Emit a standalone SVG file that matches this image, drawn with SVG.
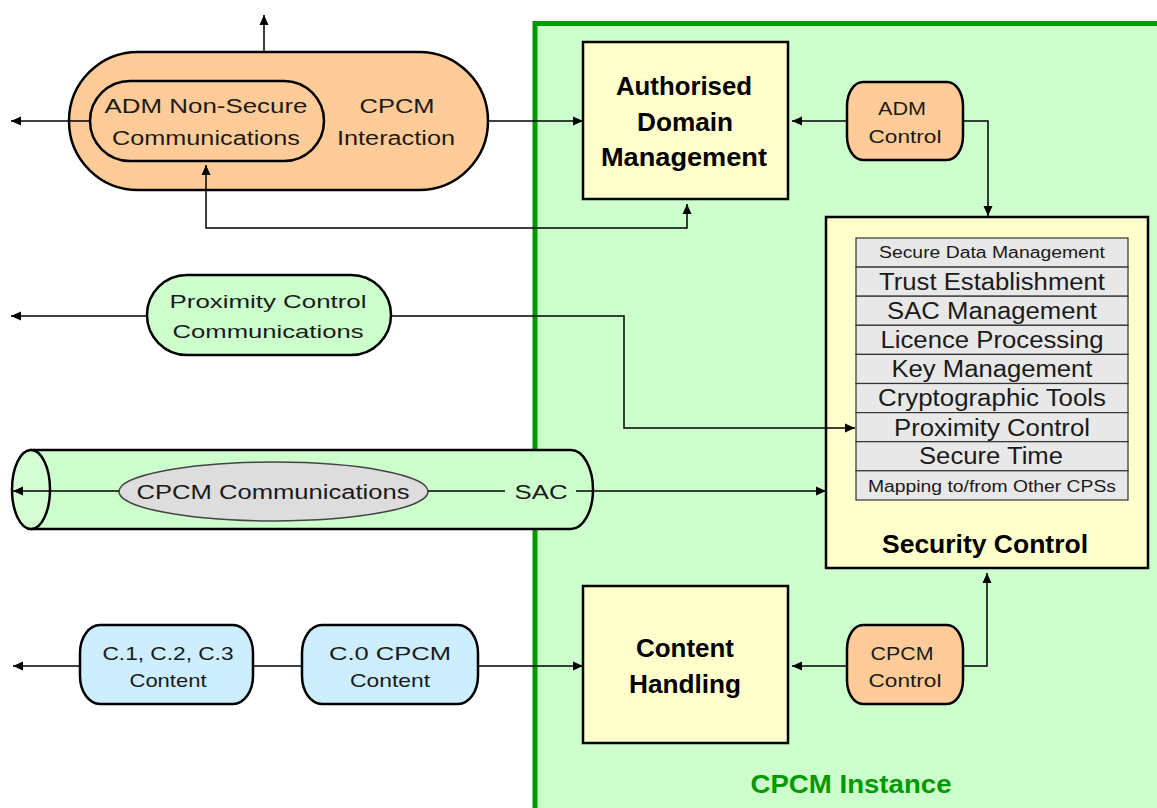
<svg xmlns="http://www.w3.org/2000/svg" width="1157" height="808" viewBox="0 0 1157 808">
<defs>
<marker id="ah" markerUnits="userSpaceOnUse" markerWidth="11" markerHeight="10" refX="10" refY="5" orient="auto-start-reverse">
<path d="M0,0.5 L10,5 L0,9.5 z" fill="#000"/>
</marker>
<style>
.sh{stroke:#000;stroke-width:2.5}
.t{font-family:"Liberation Sans",Arial,sans-serif;fill:#1a1a1a;text-anchor:middle}
.b{font-family:"Liberation Sans",Arial,sans-serif;font-weight:bold;fill:#000;text-anchor:middle;font-size:26px}
.c{fill:none;stroke:#000;stroke-width:1.5}
.row{fill:#e8e8e8;stroke:#333;stroke-width:1.2}
</style>
</defs>
<rect width="1157" height="808" fill="#fff"/>
<g id="cpcm-instance">
<rect x="535" y="23.5" width="700" height="900" fill="#ccffcc" stroke="#009900" stroke-width="5"/>
<text class="b" x="851" y="793" fill="#009900" style="fill:#009900" textLength="201" lengthAdjust="spacingAndGlyphs">CPCM Instance</text>
</g>
<g id="cpcm-interaction">
<rect class="sh" x="69" y="52" width="419" height="138" rx="69" ry="69" fill="#ffcc99"/>
<text class="t" x="397" y="113" font-size="20" textLength="75" lengthAdjust="spacingAndGlyphs">CPCM</text>
<text class="t" x="396" y="145" font-size="20" textLength="118" lengthAdjust="spacingAndGlyphs">Interaction</text>
</g>
<g id="adm-nonsecure">
<rect class="sh" x="90" y="81" width="234" height="80" rx="40" ry="40" fill="#ffcc99"/>
<text class="t" x="206" y="113" font-size="20" textLength="203" lengthAdjust="spacingAndGlyphs">ADM Non-Secure</text>
<text class="t" x="206" y="145" font-size="20" textLength="188" lengthAdjust="spacingAndGlyphs">Communications</text>
</g>
<g id="adm">
<rect class="sh" x="583" y="42" width="205" height="157" fill="#ffffcc"/>
<text class="b" x="684" y="95" textLength="136" lengthAdjust="spacingAndGlyphs">Authorised</text>
<text class="b" x="685" y="131" textLength="96" lengthAdjust="spacingAndGlyphs">Domain</text>
<text class="b" x="684" y="166" textLength="166" lengthAdjust="spacingAndGlyphs">Management</text>
</g>
<g id="adm-control">
<rect class="sh" x="847" y="82" width="116" height="78" rx="16" ry="24" fill="#ffcc99"/>
<text class="t" x="902" y="115" font-size="18" textLength="48" lengthAdjust="spacingAndGlyphs">ADM</text>
<text class="t" x="905" y="143" font-size="18" textLength="73" lengthAdjust="spacingAndGlyphs">Control</text>
</g>
<g id="proximity-comms">
<rect class="sh" x="147" y="275" width="244" height="80" rx="40" ry="40" fill="#ccffcc"/>
<text class="t" x="268" y="308" font-size="19" textLength="197" lengthAdjust="spacingAndGlyphs">Proximity Control</text>
<text class="t" x="268" y="338" font-size="19" textLength="191" lengthAdjust="spacingAndGlyphs">Communications</text>
</g>
<g id="security-control">
<rect class="sh" x="826" y="217" width="322" height="351" fill="#ffffcc"/>
<rect class="row" x="856" y="238" width="272" height="29.1"/>
<rect class="row" x="856" y="267.1" width="272" height="29.1"/>
<rect class="row" x="856" y="296.2" width="272" height="29.1"/>
<rect class="row" x="856" y="325.3" width="272" height="29.1"/>
<rect class="row" x="856" y="354.4" width="272" height="29.1"/>
<rect class="row" x="856" y="383.5" width="272" height="29.1"/>
<rect class="row" x="856" y="412.6" width="272" height="29.1"/>
<rect class="row" x="856" y="441.7" width="272" height="29.1"/>
<rect class="row" x="856" y="470.8" width="272" height="29.2"/>
<text class="t" x="992" y="258" font-size="16" textLength="226" lengthAdjust="spacingAndGlyphs">Secure Data Management</text>
<text class="t" x="992" y="290" font-size="23" textLength="226" lengthAdjust="spacingAndGlyphs">Trust Establishment</text>
<text class="t" x="992" y="319" font-size="23" textLength="210" lengthAdjust="spacingAndGlyphs">SAC Management</text>
<text class="t" x="992" y="348" font-size="23" textLength="223" lengthAdjust="spacingAndGlyphs">Licence Processing</text>
<text class="t" x="992" y="377" font-size="23" textLength="201" lengthAdjust="spacingAndGlyphs">Key Management</text>
<text class="t" x="992" y="406" font-size="23" textLength="228" lengthAdjust="spacingAndGlyphs">Cryptographic Tools</text>
<text class="t" x="992" y="436" font-size="23" textLength="196" lengthAdjust="spacingAndGlyphs">Proximity Control</text>
<text class="t" x="991" y="464" font-size="23" textLength="144" lengthAdjust="spacingAndGlyphs">Secure Time</text>
<text class="t" x="992" y="492" font-size="16" textLength="248" lengthAdjust="spacingAndGlyphs">Mapping to/from Other CPSs</text>
<text class="b" x="985" y="553" textLength="206" lengthAdjust="spacingAndGlyphs">Security Control</text>
</g>
<g id="sac-tube">
<path class="sh" d="M31,450 H571 A22,39.5 0 0 1 571,529 H31 Z" fill="#ccffcc"/>
<ellipse class="sh" cx="31" cy="489.5" rx="19" ry="39.5" fill="#d4ffd4"/>
<text class="t" x="541" y="499" font-size="20" textLength="53" lengthAdjust="spacingAndGlyphs">SAC</text>
</g>
<g id="cpcm-comms">
<ellipse cx="273.5" cy="491.5" rx="154.5" ry="29.5" fill="#dddddd" stroke="#444" stroke-width="1.5"/>
<text class="t" x="273" y="499" font-size="20" textLength="273" lengthAdjust="spacingAndGlyphs">CPCM Communications</text>
</g>
<g id="c123-content">
<rect class="sh" x="80" y="625" width="173" height="79" rx="20" ry="28" fill="#cceeff"/>
<text class="t" x="168" y="660" font-size="19" textLength="131" lengthAdjust="spacingAndGlyphs">C.1, C.2, C.3</text>
<text class="t" x="168" y="687" font-size="19" textLength="77" lengthAdjust="spacingAndGlyphs">Content</text>
</g>
<g id="c0-content">
<rect class="sh" x="302" y="625" width="176" height="79" rx="20" ry="28" fill="#cceeff"/>
<text class="t" x="390" y="660" font-size="19" textLength="122" lengthAdjust="spacingAndGlyphs">C.0 CPCM</text>
<text class="t" x="390" y="687" font-size="19" textLength="80" lengthAdjust="spacingAndGlyphs">Content</text>
</g>
<g id="content-handling">
<rect class="sh" x="583" y="586" width="205" height="157" fill="#ffffcc"/>
<text class="b" x="685" y="657" textLength="98" lengthAdjust="spacingAndGlyphs">Content</text>
<text class="b" x="685" y="693" textLength="112" lengthAdjust="spacingAndGlyphs">Handling</text>
</g>
<g id="cpcm-control">
<rect class="sh" x="847" y="625" width="116" height="79" rx="16" ry="24" fill="#ffcc99"/>
<text class="t" x="902" y="660" font-size="18" textLength="63" lengthAdjust="spacingAndGlyphs">CPCM</text>
<text class="t" x="905" y="687" font-size="18" textLength="73" lengthAdjust="spacingAndGlyphs">Control</text>
</g>
<g id="connectors">
<path class="c" d="M264,52 V15" marker-end="url(#ah)"/>
<path class="c" d="M90,121 H11" marker-end="url(#ah)"/>
<path class="c" d="M488,121 H583" marker-end="url(#ah)"/>
<path class="c" d="M687,204 V228 H206 V165" marker-start="url(#ah)" marker-end="url(#ah)"/>
<path class="c" d="M847,121 H792" marker-end="url(#ah)"/>
<path class="c" d="M963,121 H988 V216" marker-end="url(#ah)"/>
<path class="c" d="M147,316 H11" marker-end="url(#ah)"/>
<path class="c" d="M391,316 H624 V428 H855" marker-end="url(#ah)"/>
<path class="c" d="M119,491 H13" marker-end="url(#ah)"/>
<path class="c" d="M428,491 H505"/>
<path class="c" d="M576,491 H826" marker-end="url(#ah)"/>
<path class="c" d="M80,666 H13" marker-end="url(#ah)"/>
<path class="c" d="M253,666 H302"/>
<path class="c" d="M478,666 H583" marker-end="url(#ah)"/>
<path class="c" d="M847,666 H792" marker-end="url(#ah)"/>
<path class="c" d="M963,666 H987 V573" marker-end="url(#ah)"/>
</g>
</svg>
